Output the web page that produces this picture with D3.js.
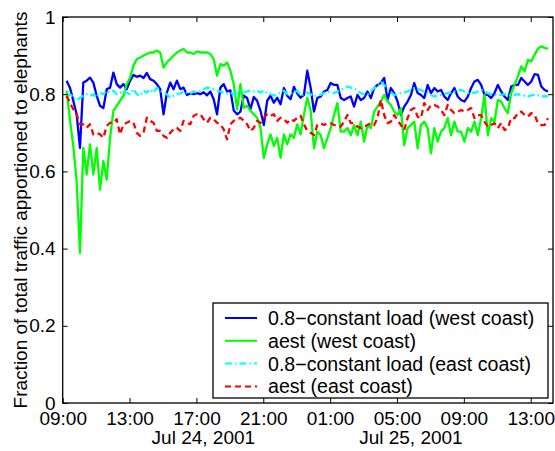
<!DOCTYPE html>
<html>
<head>
<meta charset="utf-8">
<script src="https://cdn.jsdelivr.net/npm/d3@7"></script>
<style>
    body { margin: 0; background: #fff; }
    text { font-family: "Liberation Sans", Arial, Helvetica, sans-serif; }
</style>
</head>
<body>
<div id="chart"></div>
<script>
// Samples every 12 minutes, starting Jul 24 2001 09:14
const startTime = new Date(2001, 6, 24, 9, 14);
const stepMinutes = 12;

const blueWest = [
    0.835, 0.817, 0.783, 0.748, 0.661, 0.830, 0.835, 0.843, 0.830, 0.796,
    0.770, 0.764, 0.813, 0.817, 0.856, 0.826, 0.817, 0.826, 0.813, 0.835,
    0.850, 0.845, 0.848, 0.842, 0.855, 0.839, 0.835, 0.826, 0.813, 0.748,
    0.804, 0.830, 0.813, 0.835, 0.813, 0.817, 0.798, 0.802, 0.800, 0.803,
    0.800, 0.805, 0.797, 0.807, 0.787, 0.748, 0.817, 0.826, 0.807, 0.810,
    0.758, 0.748, 0.755, 0.796, 0.790, 0.761, 0.793, 0.783, 0.757, 0.720,
    0.783, 0.796, 0.778, 0.791, 0.774, 0.816, 0.796, 0.787, 0.819, 0.802,
    0.791, 0.798, 0.861, 0.817,
    0.755, 0.790, 0.794, 0.807, 0.811, 0.829, 0.824, 0.824, 0.790, 0.785,
    0.790, 0.794, 0.768, 0.798, 0.785, 0.790, 0.807, 0.790, 0.816, 0.824,
    0.829, 0.842, 0.785, 0.816, 0.803, 0.781, 0.746, 0.768, 0.781, 0.798,
    0.829, 0.803, 0.798, 0.790, 0.824, 0.803, 0.816, 0.807, 0.811, 0.794,
    0.785, 0.803, 0.816, 0.794, 0.785, 0.781, 0.794, 0.816, 0.833, 0.837,
    0.824, 0.798, 0.798, 0.790, 0.803, 0.824, 0.807, 0.794, 0.785, 0.820,
    0.824, 0.824, 0.842, 0.833, 0.824, 0.833, 0.852, 0.850, 0.820, 0.811,
    0.807
];

const aestWest = [
    0.809, 0.735, 0.665, 0.575, 0.389, 0.661, 0.592, 0.670, 0.592, 0.661,
    0.553, 0.627, 0.579, 0.687, 0.757, 0.770, 0.783, 0.796, 0.826, 0.843,
    0.874, 0.891, 0.895, 0.900, 0.904, 0.908, 0.908, 0.913, 0.908, 0.869,
    0.882, 0.891, 0.900, 0.908, 0.913, 0.917, 0.908, 0.908, 0.904, 0.911,
    0.908, 0.908, 0.908, 0.904, 0.891, 0.848, 0.878, 0.874, 0.882, 0.861,
    0.826, 0.761, 0.826, 0.765, 0.770, 0.757, 0.748, 0.739, 0.713, 0.635,
    0.670, 0.696, 0.666, 0.687, 0.635, 0.696, 0.670, 0.696, 0.687, 0.722,
    0.696, 0.748, 0.791, 0.757,
    0.660, 0.703, 0.694, 0.660, 0.686, 0.712, 0.746, 0.777, 0.703, 0.703,
    0.712, 0.694, 0.720, 0.694, 0.729, 0.677, 0.720, 0.712, 0.755, 0.768,
    0.781, 0.798, 0.781, 0.772, 0.755, 0.746, 0.764, 0.668, 0.712, 0.720,
    0.729, 0.660, 0.720, 0.729, 0.712, 0.647, 0.712, 0.677, 0.703, 0.712,
    0.738, 0.694, 0.729, 0.703, 0.703, 0.677, 0.712, 0.703, 0.729, 0.694,
    0.738, 0.798, 0.694, 0.738, 0.729, 0.785, 0.781, 0.764, 0.751, 0.803,
    0.824, 0.846, 0.872, 0.859, 0.889, 0.885, 0.902, 0.918, 0.924, 0.920,
    0.918
];

const blueEast = [
    0.796, 0.800, 0.791, 0.783, 0.791, 0.796, 0.800, 0.796, 0.800, 0.791,
    0.804, 0.800, 0.809, 0.804, 0.809, 0.800, 0.804, 0.809, 0.804, 0.800,
    0.813, 0.800, 0.796, 0.809, 0.804, 0.813, 0.804, 0.817, 0.809, 0.804,
    0.800, 0.791, 0.796, 0.800, 0.802, 0.807, 0.804, 0.802, 0.807, 0.804,
    0.809, 0.813, 0.817, 0.816, 0.813, 0.809, 0.807, 0.804, 0.802, 0.804,
    0.800, 0.804, 0.809, 0.804, 0.807, 0.810, 0.807, 0.809, 0.804, 0.810,
    0.802, 0.800, 0.796, 0.800, 0.804, 0.809, 0.800, 0.802, 0.804, 0.809,
    0.796, 0.800, 0.804, 0.800,
    0.794, 0.797, 0.798, 0.803, 0.807, 0.805, 0.803, 0.807, 0.811, 0.816,
    0.820, 0.817, 0.816, 0.809, 0.803, 0.800, 0.798, 0.807, 0.816, 0.824,
    0.833, 0.824, 0.811, 0.805, 0.798, 0.800, 0.803, 0.805, 0.807, 0.811,
    0.816, 0.814, 0.811, 0.807, 0.803, 0.798, 0.794, 0.797, 0.798, 0.800,
    0.803, 0.805, 0.807, 0.809, 0.811, 0.807, 0.803, 0.805, 0.803, 0.807,
    0.811, 0.807, 0.803, 0.800, 0.798, 0.797, 0.798, 0.800, 0.798, 0.797,
    0.798, 0.800, 0.798, 0.796, 0.794, 0.797, 0.798, 0.797, 0.794, 0.795,
    0.794
];

const aestEast = [
    0.796, 0.778, 0.761, 0.748, 0.722, 0.722, 0.713, 0.722, 0.696, 0.700,
    0.696, 0.687, 0.718, 0.726, 0.726, 0.735, 0.696, 0.722, 0.726, 0.731,
    0.726, 0.700, 0.692, 0.700, 0.739, 0.731, 0.726, 0.705, 0.705, 0.692,
    0.687, 0.700, 0.709, 0.713, 0.705, 0.731, 0.726, 0.722, 0.744, 0.748,
    0.748, 0.735, 0.726, 0.739, 0.735, 0.726, 0.722, 0.709, 0.683, 0.722,
    0.731, 0.735, 0.739, 0.731, 0.722, 0.705, 0.713, 0.731, 0.726, 0.739,
    0.748, 0.744, 0.748, 0.731, 0.739, 0.735, 0.726, 0.735, 0.731, 0.739,
    0.744, 0.722, 0.705, 0.700,
    0.694, 0.720, 0.725, 0.720, 0.725, 0.725, 0.720, 0.720, 0.716, 0.729,
    0.746, 0.725, 0.725, 0.716, 0.712, 0.716, 0.720, 0.725, 0.720, 0.738,
    0.785, 0.746, 0.725, 0.729, 0.746, 0.733, 0.720, 0.707, 0.738, 0.759,
    0.764, 0.742, 0.738, 0.777, 0.759, 0.772, 0.772, 0.768, 0.759, 0.746,
    0.772, 0.759, 0.751, 0.755, 0.759, 0.755, 0.759, 0.764, 0.738, 0.746,
    0.746, 0.729, 0.716, 0.720, 0.725, 0.712, 0.725, 0.707, 0.712, 0.738,
    0.738, 0.751, 0.755, 0.746, 0.742, 0.751, 0.746, 0.725, 0.720, 0.720,
    0.738
];

const seriesNames = [
    "0.8\u2212constant load (west coast)",
    "aest (west coast)",
    "0.8\u2212constant load (east coast)",
    "aest (east coast)"
];

const xTickTimes = [
    new Date(2001, 6, 24, 9), new Date(2001, 6, 24, 13), new Date(2001, 6, 24, 17),
    new Date(2001, 6, 24, 21), new Date(2001, 6, 25, 1), new Date(2001, 6, 25, 5),
    new Date(2001, 6, 25, 9), new Date(2001, 6, 25, 13)
];
const dateLabels = ["Jul 24, 2001", "Jul 25, 2001"];
const dateLabelTimes = [new Date(2001, 6, 24, 17, 25), new Date(2001, 6, 25, 5, 50)];
const yTicks = [0, 0.2, 0.4, 0.6, 0.8, 1];

// Dimensions
const width = 555;
const height = 451;
const margin = { top: 17, right: 2, bottom: 48, left: 62.7 };
const fontSize = 19;

const svg = d3.select("#chart")
    .append("svg")
    .attr("width", width)
    .attr("height", height);

// Scales
const x = d3.scaleTime()
    .domain([new Date(2001, 6, 24, 9), new Date(2001, 6, 25, 14, 20)])
    .range([margin.left, width - margin.right]);

const y = d3.scaleLinear()
    .domain([0, 1])
    .range([height - margin.bottom, margin.top]);

const times = blueWest.map((d, i) => new Date(startTime.getTime() + i * stepMinutes * 60000));

const series = [
    { name: seriesNames[0], values: blueWest, color: "#0000ff", dash: null },
    { name: seriesNames[1], values: aestWest, color: "#00ff00", dash: null },
    { name: seriesNames[2], values: blueEast, color: "#00ffff", dash: "7,3,1.5,3" },
    { name: seriesNames[3], values: aestEast, color: "#ff0000", dash: "6,4" }
];

const line = d3.line()
    .x((d, i) => x(times[i]))
    .y(d => y(d));

// Lines
svg.selectAll(".series")
    .data(series)
    .enter()
    .append("path")
    .attr("class", "series")
    .attr("fill", "none")
    .attr("stroke", d => d.color)
    .attr("stroke-width", 2.3)
    .attr("stroke-linejoin", "round")
    .attr("stroke-dasharray", d => d.dash)
    .attr("d", d => line(d.values));

// Axes (ticks inside, on all four sides)
const styleAxis = g => {
    g.select(".domain").remove();
    g.attr("font-size", fontSize).attr("font-family", "'Liberation Sans', Arial, sans-serif");
    g.selectAll("text").attr("fill", "#000");
};

svg.append("g")
    .attr("transform", `translate(0,${height - margin.bottom})`)
    .call(d3.axisBottom(x).tickValues(xTickTimes).tickFormat(d3.timeFormat("%H:%M"))
        .tickSizeInner(-5).tickSizeOuter(0).tickPadding(8.5))
    .call(styleAxis);

svg.append("g")
    .attr("transform", `translate(0,${margin.top})`)
    .call(d3.axisTop(x).tickValues(xTickTimes).tickFormat("").tickSizeInner(-5).tickSizeOuter(0))
    .call(styleAxis);

svg.append("g")
    .attr("transform", `translate(${margin.left},0)`)
    .call(d3.axisLeft(y).tickValues(yTicks).tickFormat(d => String(d))
        .tickSizeInner(-5).tickSizeOuter(0).tickPadding(7))
    .call(styleAxis);

svg.append("g")
    .attr("transform", `translate(${width - margin.right},0)`)
    .call(d3.axisRight(y).tickValues(yTicks).tickFormat("").tickSizeInner(-5).tickSizeOuter(0))
    .call(styleAxis);

// Box
svg.append("rect")
    .attr("x", margin.left)
    .attr("y", margin.top)
    .attr("width", width - margin.right - margin.left)
    .attr("height", height - margin.bottom - margin.top)
    .attr("fill", "none")
    .attr("stroke", "#000")
    .attr("stroke-width", 1.3);

// Date labels under the time ticks
svg.selectAll(".datelabel")
    .data(dateLabels)
    .enter()
    .append("text")
    .attr("class", "datelabel")
    .attr("x", (d, i) => x(dateLabelTimes[i]))
    .attr("y", 444)
    .attr("text-anchor", "middle")
    .style("font-size", fontSize + "px")
    .text(d => d);

// Y label
svg.append("text")
    .attr("text-anchor", "middle")
    .attr("transform", "rotate(-90)")
    .attr("x", -(margin.top + height - margin.bottom) / 2)
    .attr("y", 27)
    .style("font-size", fontSize + "px")
    .text("Fraction of total traffic apportioned to elephants");

// Legend
const legend = svg.append("g").attr("transform", "translate(213,303)");
legend.append("rect")
    .attr("width", 335)
    .attr("height", 95)
    .attr("fill", "#fff")
    .attr("stroke", "#000")
    .attr("stroke-width", 1.3);

const rows = legend.selectAll(".row")
    .data(series)
    .enter()
    .append("g")
    .attr("class", "row")
    .attr("transform", (d, i) => `translate(0,${15 + i * 22.8})`);

rows.append("line")
    .attr("x1", 12).attr("x2", 44)
    .attr("stroke", d => d.color)
    .attr("stroke-width", 2)
    .attr("stroke-dasharray", d => d.dash);

rows.append("text")
    .attr("x", 55)
    .attr("y", 7)
    .style("font-size", "19.6px")
    .text(d => d.name);
</script>
</body>
</html>
